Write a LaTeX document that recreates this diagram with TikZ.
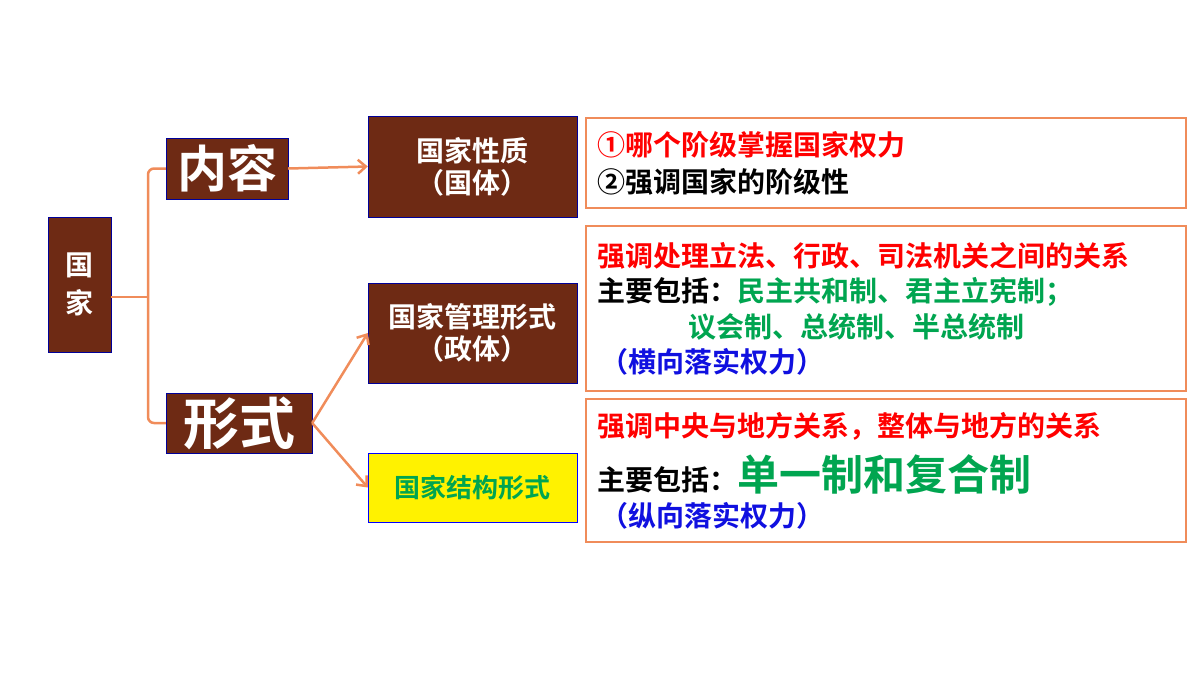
\documentclass[tikz,border=0pt]{standalone}
\usepackage{fontspec}
\setmainfont{Noto Sans CJK SC}[BoldFont={Noto Sans CJK SC Bold}]
\usetikzlibrary{arrows.meta}
\definecolor{brn}{HTML}{6E2A14}
\definecolor{org}{HTML}{F08C5A}
\definecolor{grn}{HTML}{00A550}
\definecolor{blu}{HTML}{1010E0}
\definecolor{rd}{HTML}{FF0000}
\tikzset{
 bb/.style={draw=blue!60!black,fill=brn,text=white,font=\bfseries\fontsize{28}{32}\selectfont,align=center,inner sep=0pt},
 ob/.style={draw=org,line width=2pt,fill=white},
 con/.style={draw=org,line width=2.5pt},
 arr/.style={con,-{Straight Barb[length=8pt,width=14pt]}},
 tx/.style={anchor=west,inner sep=0pt,font=\bfseries\fontsize{28}{30}\selectfont}
}
\begin{document}
\begin{tikzpicture}[x=1pt,y=-1pt]
\useasboundingbox (0,0) rectangle (1200,675);
\node[bb,minimum width=63pt,minimum height=135pt] (gj) at (79.5,284.5) {国\\[6pt]家};
\node[bb,minimum width=122pt,minimum height=61pt,font=\bfseries\fontsize{50}{52}\selectfont] (nr) at (227,168.5) {内容};
\node[bb,minimum width=146pt,minimum height=60pt,font=\bfseries\fontsize{56}{58}\selectfont] (xs) at (239,423) {形式};
\node[bb,minimum width=209pt,minimum height=101pt] (gt) at (472.5,166.5) {国家性质\\（国体）};
\node[bb,minimum width=209pt,minimum height=100pt] (zt) at (472.5,333) {国家管理形式\\（政体）};
\node[bb,fill=yellow,text=grn,draw=blue,minimum width=209pt,minimum height=69pt,font=\bfseries\fontsize{26}{30}\selectfont] (jg) at (472.5,487.5) {国家结构形式};
\coordinate (j) at (148,297);
\draw[con,rounded corners=6pt] (nr.west) -| (j) |- (xs.west);
\draw[con] (gj.east|-j) -- (j);
\draw[arr] (nr.east) -- (gt.west);
\draw[arr] (xs.east) -- (zt.west);
\draw[arr] (xs.east) -- (jg.west);
\node[ob,minimum width=600pt,minimum height=90pt] (b1) at (886,163) {};
\node[ob,minimum width=600pt,minimum height=165pt] (b2) at (886,308.5) {};
\node[ob,minimum width=600pt,minimum height=143pt] (b3) at (886,470.5) {};
\node[tx,text=rd] (t11) at (597,145) {①哪个阶级掌握国家权力};
\node[tx] (t12) at (597,182) {②强调国家的阶级性};
\node[tx,text=rd] (t21) at (597,256) {强调处理立法、行政、司法机关之间的关系};
\node[tx] (t22) at (597,292) {主要包括：\textcolor{grn}{民主共和制、君主立宪制；}};
\node[tx,text=grn] (t23) at (688,327) {议会制、总统制、半总统制};
\node[tx,text=blu] (t24) at (600,362) {（横向落实权力）};
\node[tx,text=rd] (t31) at (597,426) {强调中央与地方关系，整体与地方的关系};
\node[tx] (t32) at (597,474) {主要包括：\textcolor{grn}{\fontsize{42}{44}\selectfont 单一制和复合制}};
\node[tx,text=blu] (t33) at (600,516) {（纵向落实权力）};
\end{tikzpicture}
\end{document}
